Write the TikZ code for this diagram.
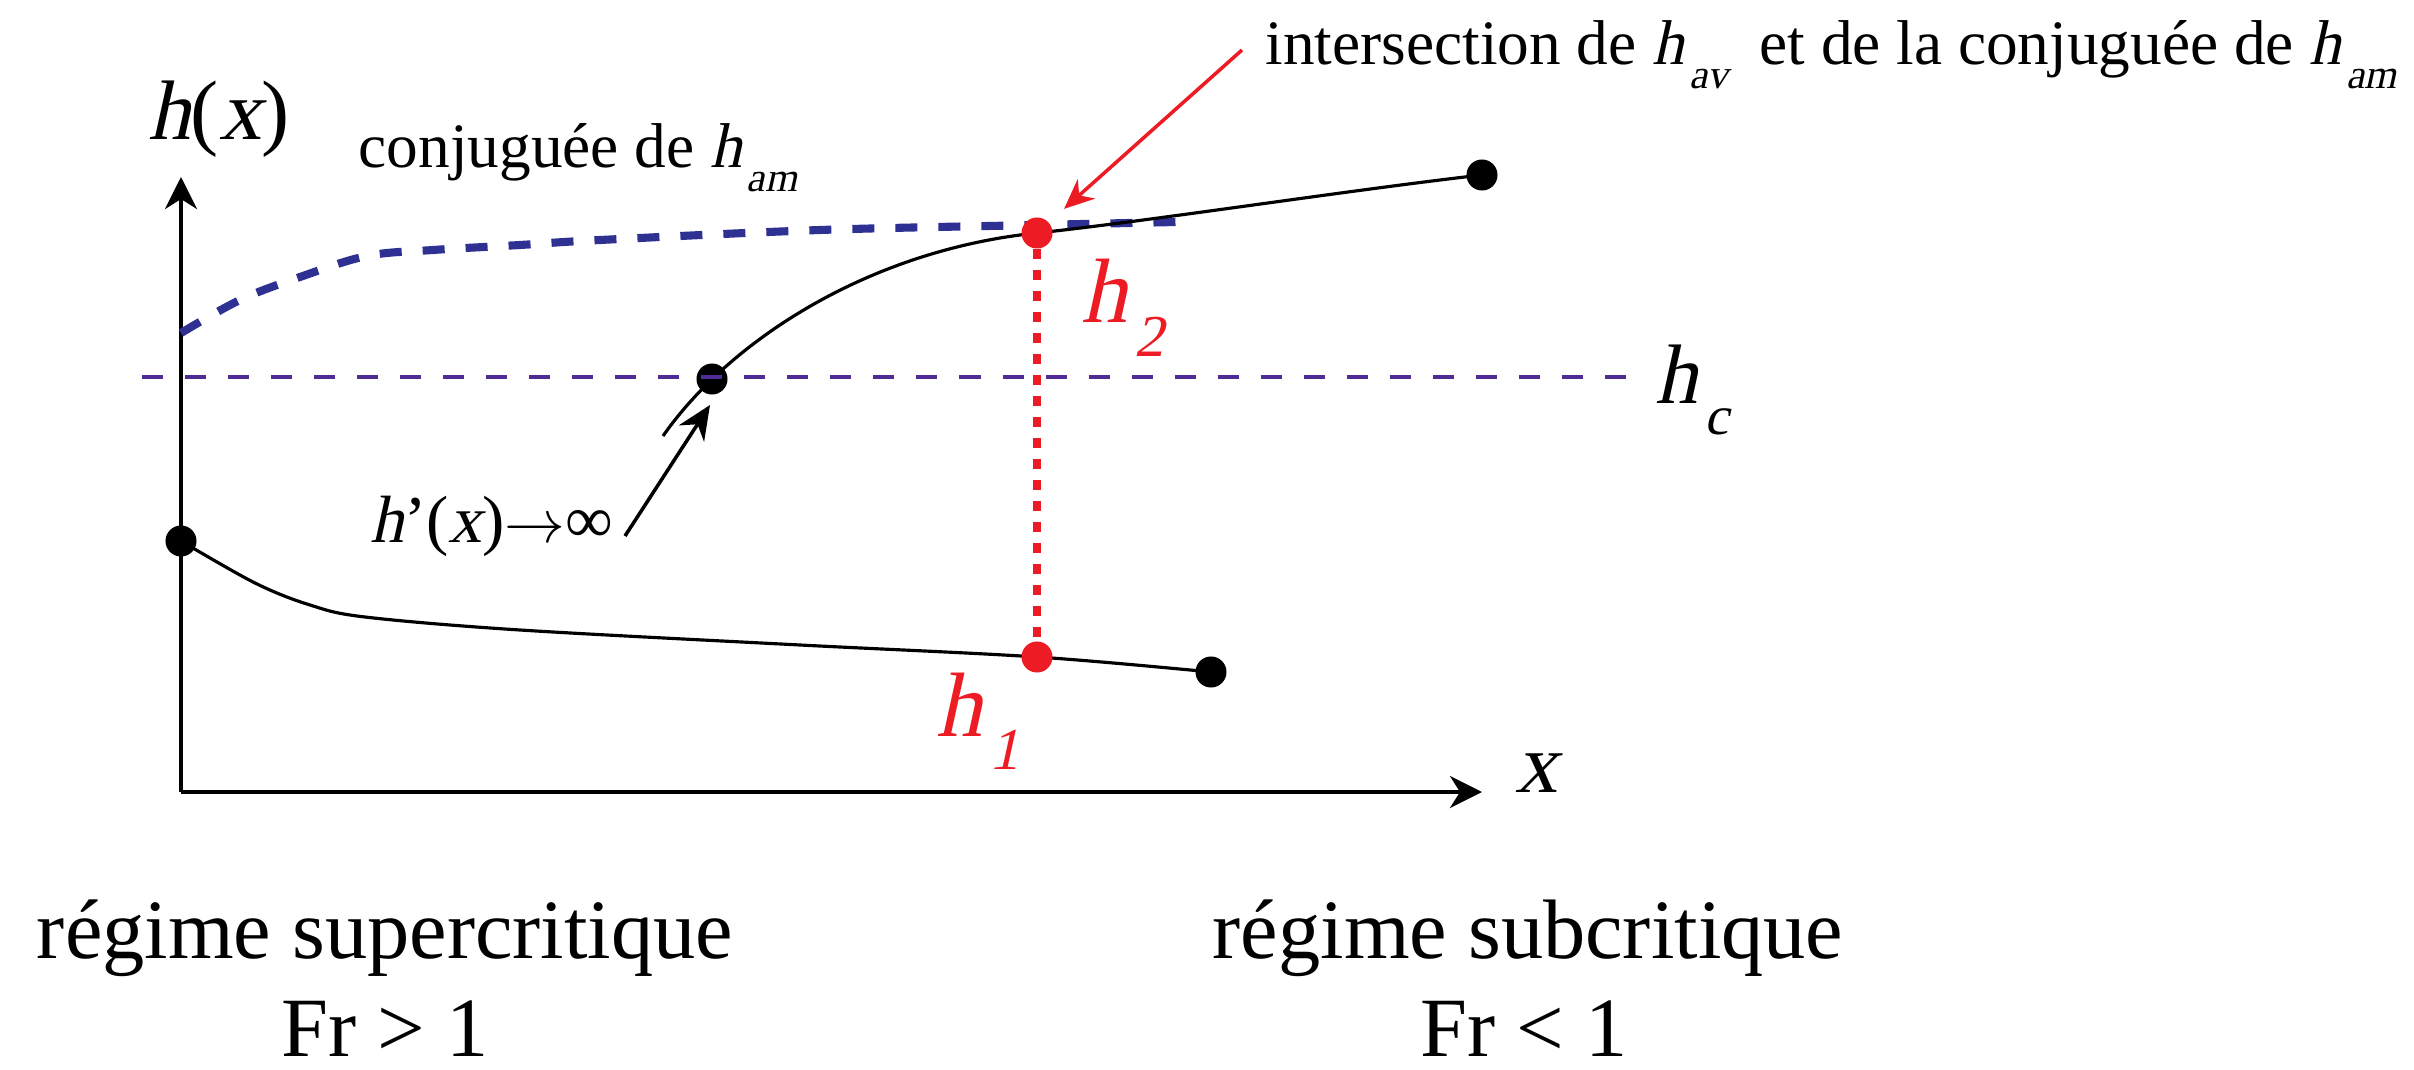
\documentclass[tikz,border=0pt]{standalone}
\usepackage{fontspec}
\setmainfont{Liberation Serif}[ItalicFont=Liberation Serif, ItalicFeatures={FakeSlant=0.22}]
\usepackage{graphicx}
\usetikzlibrary{arrows.meta,positioning}
\definecolor{conjblue}{RGB}{46,49,146}
\definecolor{critpurple}{RGB}{80,45,150}
\definecolor{jumpred}{RGB}{237,28,36}
% h with a lowered italic index
\newcommand{\hsub}[1]{\textit{h}\kern0.08em\raisebox{-0.37em}{\scalebox{0.65}{\itshape #1}}}

\begin{document}
\begin{tikzpicture}[
  x=0.01cm, y=-0.01cm,
  big/.style={font=\fontsize{24}{28}\selectfont, inner sep=0pt},
  note/.style={font=\fontsize{18}{22}\selectfont, inner sep=0pt},
  redlab/.style={font=\fontsize{26}{30}\selectfont, inner sep=0pt, text=jumpred},
  dot/.style={circle, fill=black, inner sep=0pt, minimum size=0.31cm},
  reddot/.style={dot, fill=jumpred},
  axis/.style={line width=1.1pt, -{Stealth[length=3.2mm,width=3.2mm,inset=1mm]}},
  curve/.style={line width=0.9pt},
  conj/.style={conjblue, line width=2.3pt, dash pattern=on 0.22cm off 0.21cm},
  crit/.style={critpurple, line width=1pt, dash pattern=on 0.21cm off 0.22cm},
  jump/.style={jumpred, line width=2pt, dash pattern=on 0.1cm off 0.11cm}
]
\useasboundingbox (0,0) rectangle (2414,1070);

% axes
\coordinate (o) at (181,792);
\coordinate (ytip) at (181,177);
\coordinate (xtip) at (1482,792);
\draw[axis] (o) -- (ytip);
\draw[axis] (o) -- (xtip);
\node[big, anchor=base west] (hxlab) at (148,140) {\textit{h}(\textit{x})};
\node[big, anchor=base west] (xlab) at (1515,792) {\textit{x}};

% conjuguee de h_am
\draw[conj] plot[smooth, tension=0.6] coordinates {(181,333) (240,300) (300,277) (367,256) (433,250) (520,245) (600,240) (820,230) (1037,225) (1177,222)};
\node[note, anchor=base west] (conjlab) at (358,168) {conjuguée de \hsub{am}};

% the two branches
\draw[curve] plot[smooth, tension=0.55] coordinates {(181,541) (255,583) (310,605) (365,617) (520,630) (800,645) (1037,657) (1211,672)};
\draw[curve] (663,436) .. controls (730,340) and (870,250) .. (1037,233)
  .. controls (1150,221) and (1350,190) .. (1482,175);

\node[dot] (d0) at (181,541) {};
\node[dot] (d1) at (1211,672) {};
\node[dot] (dc) at (712,379) {};
\node[dot] (d2) at (1482,175) {};

% critical depth
\coordinate (hcstart) at (142,377);
\coordinate (hcend) at (1632,377);
\draw[crit] (hcstart) -- (hcend);
\node[big, anchor=base west] (hclab) at (1655,403) {\hsub{c}};

% jump h1 -> h2
\node[reddot] (r2) at (1037,233) {};
\node[reddot] (r1) at (1037,657) {};
\draw[jump] (r2) -- (r1);
\node[redlab, anchor=base west] (h2lab) at (1081,323) {\hsub{2}};
\node[redlab, anchor=base west] (h1lab) at (936,736) {\hsub{1}};

% annotations
\node[note, anchor=base west] (intlab) at (1265,65) {intersection de \hsub{av}\hspace{0.25em} et de la conjuguée de \hsub{am}};
\coordinate (intstart) at (1242,50);
\draw[jumpred, line width=1pt, -{Stealth[length=3mm,width=2.6mm]}, shorten >=2mm] (intstart) -- (r2);

\node[font=\fontsize{19}{23}\selectfont, inner sep=0pt, anchor=base west] (dlab) at (370,542) {\textit{h}’(\textit{x})$\to$∞};
\coordinate (dstart) at (625,536);
\coordinate (dtip) at (710,405);
\draw[line width=1pt, -{Stealth[length=3.4mm,width=3mm]}] (dstart) -- (dtip);

% regimes
\node[big, anchor=base] (sup) at (385,958) {régime supercritique};
\node[big, anchor=base] (frsup) at (385,1056) {Fr > 1};
\node[big, anchor=base] (sub) at (1528,958) {régime subcritique};
\node[big, anchor=base] (frsub) at (1524,1056) {Fr < 1};
\end{tikzpicture}
\end{document}
